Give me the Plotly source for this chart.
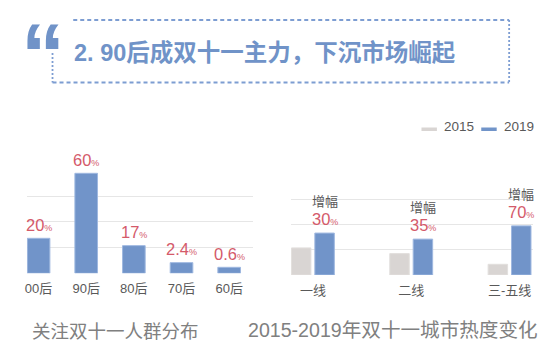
import plotly.graph_objects as go

# ---------------- data ----------------
age_groups = ["00后", "90后", "80后", "70后", "60后"]
age_share_labels = ["20", "60", "17", "2.4", "0.6"]          # printed values (%)
age_bar_heights = [21.0, 60.0, 16.6, 6.4, 3.6]               # bar heights as drawn
left_grid_step = 15.4

city_tiers = ["一线", "二线", "三-五线"]
heat_2015 = [21.5, 17.0, 8.5]
heat_2019 = [33.3, 28.5, 39.0]
growth_labels = ["30", "35", "70"]
right_grid_step = 20

series_names = ["2015", "2019"]
title_text = "2. 90后成双十一主力，下沉市场崛起"
left_caption = "关注双十一人群分布"
right_caption = "2015-2019年双十一城市热度变化"

# ---------------- style ----------------
W, H = 550, 357
BLUE = "#7194c9"
BLUE_EDGE = "#9fb8e0"
GRAY_BAR = "#d9d5d3"
RED = "#d45a6a"
DARK = "#595959"
CAPTION = "#808080"
GRID = "#e6e6e6"
TITLE_BLUE = "#7093c8"
FONT = "Liberation Sans, Noto Sans CJK SC"
CJK = "Noto Sans CJK SC"


def px(x):
    return x / W


def py(y):
    return 1 - y / H


fig = go.Figure()

# left chart
fig.add_trace(go.Bar(
    x=list(range(len(age_groups))), y=age_bar_heights,
    width=0.475, marker=dict(color=BLUE, line=dict(color=BLUE_EDGE, width=1)),
    xaxis="x", yaxis="y", showlegend=False, hoverinfo="skip",
))

# right chart
fig.add_trace(go.Bar(
    x=list(range(len(city_tiers))), y=heat_2015, name=series_names[0],
    width=0.198, offset=-0.218,
    marker=dict(color=GRAY_BAR, line=dict(color="#e2dfdd", width=1)),
    xaxis="x2", yaxis="y2", showlegend=False, hoverinfo="skip",
))
fig.add_trace(go.Bar(
    x=list(range(len(city_tiers))), y=heat_2019, name=series_names[1],
    width=0.198, offset=0.02,
    marker=dict(color=BLUE, line=dict(color=BLUE_EDGE, width=1)),
    xaxis="x2", yaxis="y2", showlegend=False, hoverinfo="skip",
))

annotations = []

# value labels left
for i, (lab, h) in enumerate(zip(age_share_labels, age_bar_heights)):
    annotations.append(dict(
        x=i, y=h, xref="x", yref="y", yanchor="bottom", xanchor="center",
        yshift=3.5, showarrow=False, borderpad=0,
        text=f"{lab}<span style='font-size:9px'>%</span>",
        font=dict(family="Liberation Sans", size=16.5, color=RED),
    ))

# growth labels right
for i, (lab, h) in enumerate(zip(growth_labels, heat_2019)):
    annotations.append(dict(
        x=i + 0.119, y=h, xref="x2", yref="y2", yanchor="bottom", xanchor="center",
        yshift=4, showarrow=False, borderpad=0,
        text=f"{lab}<span style='font-size:9px'>%</span>",
        font=dict(family="Liberation Sans", size=16.5, color=RED),
    ))
    annotations.append(dict(
        x=i + 0.119, y=h, xref="x2", yref="y2", yanchor="bottom", xanchor="center",
        yshift=22, showarrow=False, borderpad=0, text="增幅",
        font=dict(family=CJK, size=13, color=DARK),
    ))

# legend (manual)
legend_items = [(series_names[0], GRAY_BAR, 421, 441.5), (series_names[1], BLUE, 481, 501.5)]
shapes = []
for name, col, sx, tx in legend_items:
    shapes.append(dict(type="rect", xref="paper", yref="paper",
                       x0=px(sx), x1=px(sx + 15.5), y0=py(131), y1=py(127.5),
                       fillcolor=col, line=dict(width=0)))
    annotations.append(dict(x=px(tx), y=py(126.5), xref="paper", yref="paper",
                            xanchor="left", yanchor="middle", showarrow=False,
                            text=name, font=dict(family=FONT, size=13.5, color=DARK)))

# captions
annotations.append(dict(x=px(114), y=py(330), xref="paper", yref="paper",
                        xanchor="center", yanchor="middle", showarrow=False,
                        text=left_caption, font=dict(family=CJK, size=18.5, color=CAPTION)))
annotations.append(dict(x=px(392), y=py(330), xref="paper", yref="paper",
                        xanchor="center", yanchor="middle", showarrow=False,
                        text=right_caption, font=dict(family=FONT, size=19.6, color=CAPTION)))

# title
annotations.append(dict(x=px(70), y=py(53), xref="paper", yref="paper",
                        xanchor="left", yanchor="middle", showarrow=False,
                        text=f"<b>{title_text}</b>",
                        font=dict(family=FONT, size=23.5, color=TITLE_BLUE)))
# decorative quote
annotations.append(dict(x=px(41.5), y=py(53.7), xref="paper", yref="paper",
                        xanchor="center", yanchor="middle", showarrow=False,
                        text="<b>“</b>",
                        font=dict(family="Liberation Sans", size=88, color=TITLE_BLUE)))

# dashed box
BOX = "#7d9dd2"
shapes += [
    dict(type="line", xref="paper", yref="paper", x0=px(71.5), x1=px(509), y0=py(20), y1=py(20),
         line=dict(color=BOX, width=1.8, dash="4px,3px")),
    dict(type="line", xref="paper", yref="paper", x0=px(50.7), x1=px(509), y0=py(82.5), y1=py(82.5),
         line=dict(color=BOX, width=1.8, dash="4px,3px")),
    dict(type="line", xref="paper", yref="paper", x0=px(509), x1=px(509), y0=py(20), y1=py(82.5),
         line=dict(color=BOX, width=1.8, dash="2px,2px")),
    dict(type="line", xref="paper", yref="paper", x0=px(50.7), x1=px(50.7), y0=py(53), y1=py(82.5),
         line=dict(color=BOX, width=1.8, dash="2px,2px")),
]

left_ticks = [i * left_grid_step for i in range(4)]
right_ticks = [i * right_grid_step for i in range(4)]

fig.update_layout(
    width=W, height=H, margin=dict(l=0, r=0, t=0, b=0),
    paper_bgcolor="white", plot_bgcolor="white",
    barmode="overlay",
    font=dict(family=FONT, color=DARK),
    xaxis=dict(domain=[px(25), px(252)], range=[-0.2446, 4.502],
               tickvals=list(range(len(age_groups))), ticktext=age_groups,
               tickfont=dict(family=FONT, size=13, color=DARK),
               ticklabelstandoff=6,
               showgrid=False, zeroline=False, showline=False, ticks=""),
    yaxis=dict(domain=[py(273.3), py(160)], range=[0, 67.98],
               tickvals=left_ticks, showticklabels=False,
               showgrid=True, gridcolor=GRID, gridwidth=1.2, zeroline=False, showline=False),
    xaxis2=dict(domain=[px(290), px(533)], range=[-0.223, 2.239], anchor="y2",
                tickvals=list(range(len(city_tiers))), ticktext=city_tiers,
                tickfont=dict(family=FONT, size=13, color=DARK),
                ticklabelstandoff=6,
                showgrid=False, zeroline=False, showline=False, ticks=""),
    yaxis2=dict(domain=[py(275), py(190)], range=[0, 67.5], anchor="x2",
                tickvals=right_ticks, showticklabels=False,
                showgrid=True, gridcolor=GRID, gridwidth=1.2, zeroline=False, showline=False),
    annotations=annotations,
    shapes=shapes,
)

fig.write_html("out.html", config={"displayModeBar": False},
               post_script="document.body.style.margin='0';document.body.style.padding='0';")
